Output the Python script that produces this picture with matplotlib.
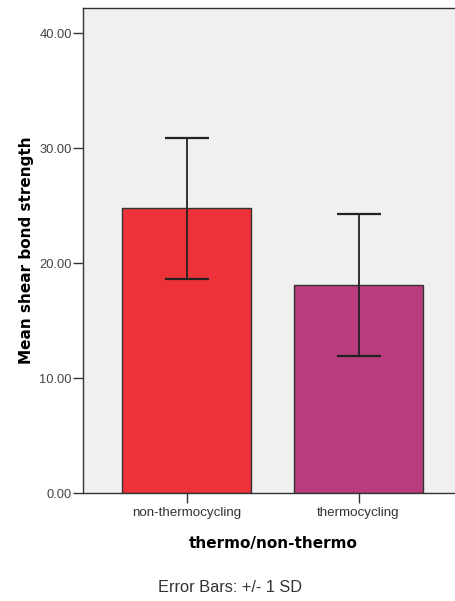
import matplotlib
matplotlib.use("Agg")
import matplotlib.pyplot as plt
import numpy as np

GROUPS = ["non-thermocycling", "thermocycling"]
MEANS = [24.78, 18.09]
SDS = [6.12, 6.15]
COLORS = ["#EE3239", "#B93D7D"]
Y_TICKS = [0, 10, 20, 30, 40]

plt.rcParams["font.family"] = ["Liberation Sans", "DejaVu Sans"]

fig = plt.figure(figsize=(4.55, 6.01), dpi=100)
ax = fig.add_axes([0.1824, 0.1797, 0.834, 0.807])
ax.set_facecolor("#F0F0F0")

x = np.arange(len(GROUPS))
ax.bar(x, MEANS, width=0.752, color=COLORS, edgecolor="#333333", linewidth=1.0, zorder=2)
ax.errorbar(x, MEANS, yerr=SDS, fmt="none", ecolor="#222222", elinewidth=1.3,
            capsize=15.5, capthick=1.6, zorder=3)

ax.set_xlim(-0.606, 1.606)
ax.set_ylim(0, 42.2)
ax.set_yticks(Y_TICKS)
ax.set_yticklabels([f"{v:.2f}" for v in Y_TICKS], color="#444444", fontsize=9.3)
ax.set_xticks(x)
ax.set_xticklabels(GROUPS, color="#333333", fontsize=9.6)
ax.tick_params(axis="y", length=7, width=1.0, color="#333333", pad=1)
ax.tick_params(axis="x", length=7, width=1.0, color="#333333", pad=3)

for side in ["top", "right", "left", "bottom"]:
    ax.spines[side].set_color("#333333")
    ax.spines[side].set_linewidth(1.0)

ax.set_ylabel("Mean shear bond strength", fontsize=11, fontweight="bold",
              family=["DejaVu Sans"], labelpad=4)
ax.set_xlabel("thermo/non-thermo", fontsize=11, fontweight="bold",
              family=["DejaVu Sans"], labelpad=12)

fig.text(0.505, 0.01, "Error Bars: +/- 1 SD", ha="center", va="bottom",
         fontsize=11.8, color="#333333")

fig.savefig("out.png", dpi=100)
